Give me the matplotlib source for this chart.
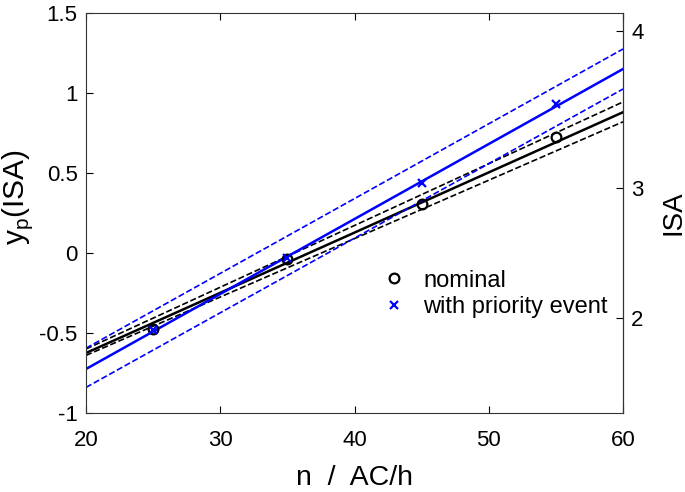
import numpy as np
import matplotlib
matplotlib.use('Agg')
import matplotlib.pyplot as plt

plt.rcParams['font.family'] = ['Liberation Sans', 'DejaVu Sans']
plt.rcParams['mathtext.fontset'] = 'custom'
plt.rcParams['mathtext.rm'] = 'Liberation Sans'

# measured points
n_points = [25, 35, 45, 55]
yp_nominal = [-0.475, -0.04, 0.306, 0.725]
yp_priority = [-0.48, -0.03, 0.44, 0.93]

# fitted lines and bands, values at n = 20 and n = 60
n_ends = [20, 60]
fit_nominal = [-0.625, 0.88]
band_nominal_hi = [-0.60, 0.944]
band_nominal_lo = [-0.64, 0.82]
fit_priority = [-0.725, 1.15]
band_priority_hi = [-0.595, 1.275]
band_priority_lo = [-0.84, 1.025]

isa_ticks = [2, 3, 4]


def yp_to_isa(yp):
    return 5.0 / (1.0 + np.exp(-np.asarray(yp, dtype=float)))


def isa_to_yp(isa):
    isa = np.clip(np.asarray(isa, dtype=float), 1e-6, 5 - 1e-6)
    return np.log(isa / (5.0 - isa))


fig = plt.figure(figsize=(6.85, 4.92), dpi=100)
ax = fig.add_axes([86 / 685, 79 / 492, 537 / 685, 400 / 492])

ax.plot(n_ends, fit_nominal, '-', color='k', lw=1.8)
ax.plot(n_ends, band_nominal_hi, '--', color='k', lw=1.2)
ax.plot(n_ends, band_nominal_lo, '--', color='k', lw=1.2)
ax.plot(n_ends, fit_priority, '-', color='b', lw=1.8)
ax.plot(n_ends, band_priority_hi, '--', color='b', lw=1.2)
ax.plot(n_ends, band_priority_lo, '--', color='b', lw=1.2)

ax.plot(n_points, yp_nominal, 'o', mfc='none', mec='k', mew=1.6, ms=7,
        ls='none', label='nominal')
ax.plot(n_points, yp_priority, 'x', color='b', mew=1.6, ms=6,
        ls='none', label='with priority event')

ax.set_xlim(20, 60)
ax.set_ylim(-1, 1.5)
ax.set_xticks([20, 30, 40, 50, 60])
ax.set_yticks([-1, -0.5, 0, 0.5, 1, 1.5])
ax.set_yticklabels(['-1', '-0.5', '0', '0.5', '1', '1.5'])
ax.tick_params(direction='in', labelsize=16, length=5, top=True,
               right=False)
ax.tick_params(axis='x', pad=12)
ax.tick_params(axis='y', pad=6)
for sp in ax.spines.values():
    sp.set_color('#333333')

ax.set_xlabel('n  /  AC/h', fontsize=20.5, labelpad=10)
ax.set_ylabel('y$_\\mathregular{p}$(ISA)', fontsize=21.5, labelpad=3)
ax.yaxis.label.set_y(0.54)

sec = ax.secondary_yaxis('right', functions=(yp_to_isa, isa_to_yp))
sec.set_yticks(isa_ticks)
sec.tick_params(direction='in', labelsize=16, length=5, pad=6)
sec.set_ylabel('ISA', fontsize=20, labelpad=12)

ax.legend(loc='center right', bbox_to_anchor=(0.972, 0.2975),
          frameon=False, fontsize=17, borderpad=0, borderaxespad=0,
          handletextpad=0.73, handlelength=1.0, labelspacing=0.2)

fig.savefig('out.png', dpi=100)
